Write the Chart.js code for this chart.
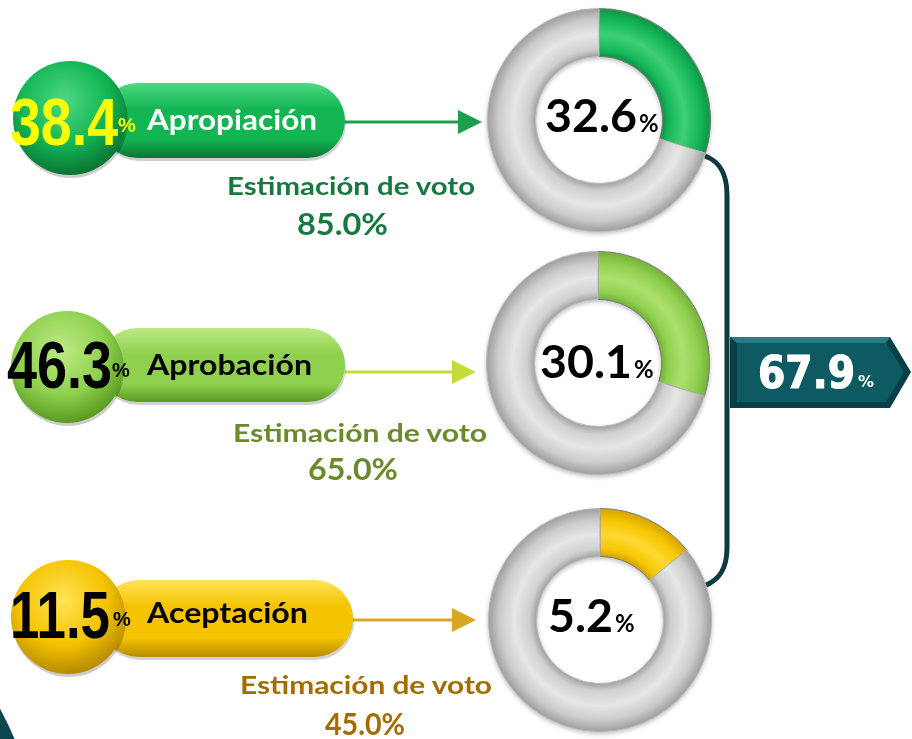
<!DOCTYPE html>
<html>
<head>
<meta charset="utf-8">
<script src="https://cdn.jsdelivr.net/npm/chart.js@4.4.1/dist/chart.umd.min.js"></script>
<style>
    html, body { margin: 0; padding: 0; background: #ffffff; }
    #stage { position: relative; width: 912px; height: 739px; overflow: hidden; }
    #shapes, #labels { position: absolute; left: 0; top: 0; }
    canvas.ring { position: absolute; filter: drop-shadow(0 2px 2px rgba(0, 0, 0, 0.25)); }
</style>
</head>
<body>
<div id="stage">
    <svg id="shapes" width="912" height="739"></svg>
    <canvas class="ring" id="ring0" width="224" height="224" style="left:487px;top:8px"></canvas>
    <canvas class="ring" id="ring1" width="224" height="224" style="left:486px;top:251px"></canvas>
    <canvas class="ring" id="ring2" width="224" height="224" style="left:488px;top:508px"></canvas>
    <svg id="labels" width="912" height="739"></svg>
</div>
<script>
// values
const categories = ['Apropiación', 'Aprobación', 'Aceptación'];
const shareValues = [38.4, 46.3, 11.5];
const voteEstimates = [85.0, 65.0, 45.0];
const ringLabels = [32.6, 30.1, 5.2];
const ringArcs = [29.8, 29.8, 14.2];   // coloured part of each ring as drawn
const totalValue = 67.9;

// colours per row
const palette = [
    { base: '#12b552', light: '#4fd884', dark: '#0a7434', ring: '#17b95a', ringLight: '#3fcf76', ringDark: '#0e9446', number: '#ffff00', label: '#ffffff', est: '#17793f', arrow: '#1e9f4e' },
    { base: '#8fd14f', light: '#bdea84', dark: '#5a9a20', ring: '#92d050', ringLight: '#ace06e', ringDark: '#74b238', number: '#000000', label: '#000000', est: '#6a8b2c', arrow: '#c6da3a' },
    { base: '#f5c300', light: '#ffe357', dark: '#b88b00', ring: '#f6c700', ringLight: '#ffd835', ringDark: '#d2a300', number: '#000000', label: '#000000', est: '#a36c00', arrow: '#d9a624' }
];

// layout of each row (pixels)
const rows = [
    { pill: [100, 83, 245, 75], circle: [70, 118, 57], num: [10, 145, 108], pct: [118, 132], label: [147, 130, 170], est: [227, 195, 248], estVal: [297, 235, 91], arrow: [345, 122, 482], ringText: [545, 132, 92], ringPct: [639, 132] },
    { pill: [100, 328, 245, 74], circle: [67, 367, 56], num: [7, 388, 105], pct: [112, 377], label: [147, 375, 165], est: [233, 442, 254], estVal: [308, 480, 90], arrow: [345, 372, 476], ringText: [540, 378, 92], ringPct: [634, 378] },
    { pill: [100, 580, 253, 77], circle: [68, 617, 57], num: [10, 638, 100], pct: [113, 626], label: [147, 623, 161], est: [240, 694, 252], estVal: [325, 735, 80], arrow: [353, 620, 476], ringText: [548, 632, 65], ringPct: [615, 632] }
];

const NS = 'http://www.w3.org/2000/svg';
function el(parent, tag, attrs, text) {
    const node = document.createElementNS(NS, tag);
    for (const k in attrs) node.setAttribute(k, attrs[k]);
    if (text !== undefined) node.textContent = text;
    parent.appendChild(node);
    return node;
}

const shapes = document.getElementById('shapes');
const labels = document.getElementById('labels');
const defs = el(shapes, 'defs', {});

// dark teal corner at the bottom left
el(shapes, 'circle', { cx: -285, cy: 865, r: 325, fill: '#0b4650' });

// connector from the rings to the total
el(shapes, 'path', {
    d: 'M 705 156 C 721 162 727 175 727 195 L 727 548 C 727 568 720 580 704 586',
    fill: 'none', stroke: '#0e3b42', 'stroke-width': 5
});

// total arrow
el(shapes, 'polygon', { points: '730,337 890,337 911,372 890,408 730,408', fill: '#083f46' });
el(shapes, 'polygon', { points: '737,343 886,343 904,372 886,402 737,402', fill: '#0e5a63' });
el(shapes, 'polygon', { points: '730,337 890,337 886,343 737,343', fill: '#2a7a83' });

rows.forEach((row, i) => {
    const c = palette[i];
    const pillGrad = el(defs, 'linearGradient', { id: 'pill' + i, x1: 0, y1: 0, x2: 0, y2: 1 });
    el(pillGrad, 'stop', { offset: '0', 'stop-color': c.light });
    el(pillGrad, 'stop', { offset: '0.35', 'stop-color': c.base });
    el(pillGrad, 'stop', { offset: '0.75', 'stop-color': c.base });
    el(pillGrad, 'stop', { offset: '1', 'stop-color': c.dark });
    const ballGrad = el(defs, 'radialGradient', { id: 'ball' + i, cx: '0.45', cy: '0.35', r: '0.65' });
    el(ballGrad, 'stop', { offset: '0', 'stop-color': c.light });
    el(ballGrad, 'stop', { offset: '0.6', 'stop-color': c.base });
    el(ballGrad, 'stop', { offset: '1', 'stop-color': c.dark });

    // arrow to the ring
    const [ax, ay, tip] = row.arrow;
    el(shapes, 'line', { x1: ax, y1: ay, x2: tip - 18, y2: ay, stroke: c.arrow, 'stroke-width': 3 });
    el(shapes, 'polygon', { points: `${tip - 24},${ay - 12} ${tip},${ay} ${tip - 24},${ay + 12}`, fill: c.arrow });

    const [px, py, pw, ph] = row.pill;
    el(shapes, 'rect', { x: px + 1, y: py + 3, width: pw, height: ph, rx: ph / 2, fill: 'rgba(0,0,0,0.18)' });
    el(shapes, 'rect', { x: px, y: py, width: pw, height: ph, rx: ph / 2, fill: `url(#pill${i})` });
    const [bx, by, br] = row.circle;
    el(shapes, 'circle', { cx: bx + 1, cy: by + 3, r: br, fill: 'rgba(0,0,0,0.2)' });
    el(shapes, 'circle', { cx: bx, cy: by, r: br, fill: `url(#ball${i})` });

    // texts
    el(labels, 'text', {
        x: row.num[0], y: row.num[1], textLength: row.num[2], lengthAdjust: 'spacingAndGlyphs',
        'font-family': 'Liberation Sans, Arial, sans-serif', 'font-weight': 'bold', 'font-size': 67, fill: c.number
    }, shareValues[i].toFixed(1));
    el(labels, 'text', {
        x: row.pct[0], y: row.pct[1], 'font-family': 'Liberation Sans, Arial, sans-serif', 'font-weight': 'bold', 'font-size': 20, fill: c.number
    }, '%');
    el(labels, 'text', {
        x: row.label[0], y: row.label[1], textLength: row.label[2], lengthAdjust: 'spacingAndGlyphs',
        'font-family': 'Lato, sans-serif', 'font-weight': 'bold', 'font-size': 29, fill: c.label
    }, categories[i]);
    el(labels, 'text', {
        x: row.est[0], y: row.est[1], textLength: row.est[2], lengthAdjust: 'spacingAndGlyphs',
        'font-family': 'Lato, sans-serif', 'font-weight': 'bold', 'font-size': 25, fill: c.est
    }, 'Estimación de voto');
    el(labels, 'text', {
        x: row.estVal[0], y: row.estVal[1], textLength: row.estVal[2], lengthAdjust: 'spacingAndGlyphs',
        'font-family': 'Lato, sans-serif', 'font-weight': 'bold', 'font-size': 30, fill: c.est
    }, voteEstimates[i].toFixed(1) + '%');
    el(labels, 'text', {
        x: row.ringText[0], y: row.ringText[1], textLength: row.ringText[2], lengthAdjust: 'spacingAndGlyphs',
        'font-family': 'Lato, sans-serif', 'font-weight': 'bold', 'font-size': 46, fill: '#000000'
    }, ringLabels[i].toFixed(1));
    el(labels, 'text', {
        x: row.ringPct[0], y: row.ringPct[1], 'font-family': 'Lato, sans-serif', 'font-weight': 'bold', 'font-size': 24, fill: '#000000'
    }, '%');
});

el(labels, 'text', {
    x: 758, y: 388, textLength: 97, lengthAdjust: 'spacingAndGlyphs',
    'font-family': 'DejaVu Sans, sans-serif', 'font-weight': 'bold', 'font-size': 44,
    fill: '#ffffff', stroke: '#ffffff', 'stroke-width': 1.2
}, totalValue.toFixed(1));
el(labels, 'text', {
    x: 858, y: 387, 'font-family': 'DejaVu Sans, sans-serif', 'font-weight': 'bold', 'font-size': 16, fill: '#ffffff'
}, '%');

// ring fill with a light band in the middle for a rounded look
function ringFill(context, c) {
    const chart = context.chart;
    const area = chart.chartArea;
    const coloured = context.dataIndex === 0;
    if (!area) return coloured ? c.ring : '#d0d0d0';
    const cx = (area.left + area.right) / 2;
    const cy = (area.top + area.bottom) / 2;
    const outer = Math.min(area.right - area.left, area.bottom - area.top) / 2;
    const inner = outer * 0.57;
    const g = chart.ctx.createRadialGradient(cx, cy, inner, cx, cy, outer);
    if (coloured) {
        g.addColorStop(0, c.ringDark);
        g.addColorStop(0.15, c.ring);
        g.addColorStop(0.45, c.ringLight);
        g.addColorStop(0.75, c.ring);
        g.addColorStop(1, c.ringDark);
    } else {
        g.addColorStop(0, '#a4a4a4');
        g.addColorStop(0.15, '#d0d0d0');
        g.addColorStop(0.45, '#e6e6e6');
        g.addColorStop(0.75, '#cccccc');
        g.addColorStop(1, '#9c9c9c');
    }
    return g;
}

ringArcs.forEach((arc, i) => {
    const ctx = document.getElementById('ring' + i).getContext('2d');
    new Chart(ctx, {
        type: 'doughnut',
        data: {
            labels: [categories[i], ''],
            datasets: [{
                data: [arc, 100 - arc],
                backgroundColor: context => ringFill(context, palette[i]),
                borderColor: ['#7a7a7a', '#b8b8b8'],
                borderWidth: 1
            }]
        },
        options: {
            responsive: false,
            animation: false,
            cutout: '57%',
            events: [],
            layout: { padding: 0 },
            plugins: {
                legend: { display: false },
                tooltip: { enabled: false }
            }
        }
    });
});
</script>
</body>
</html>
